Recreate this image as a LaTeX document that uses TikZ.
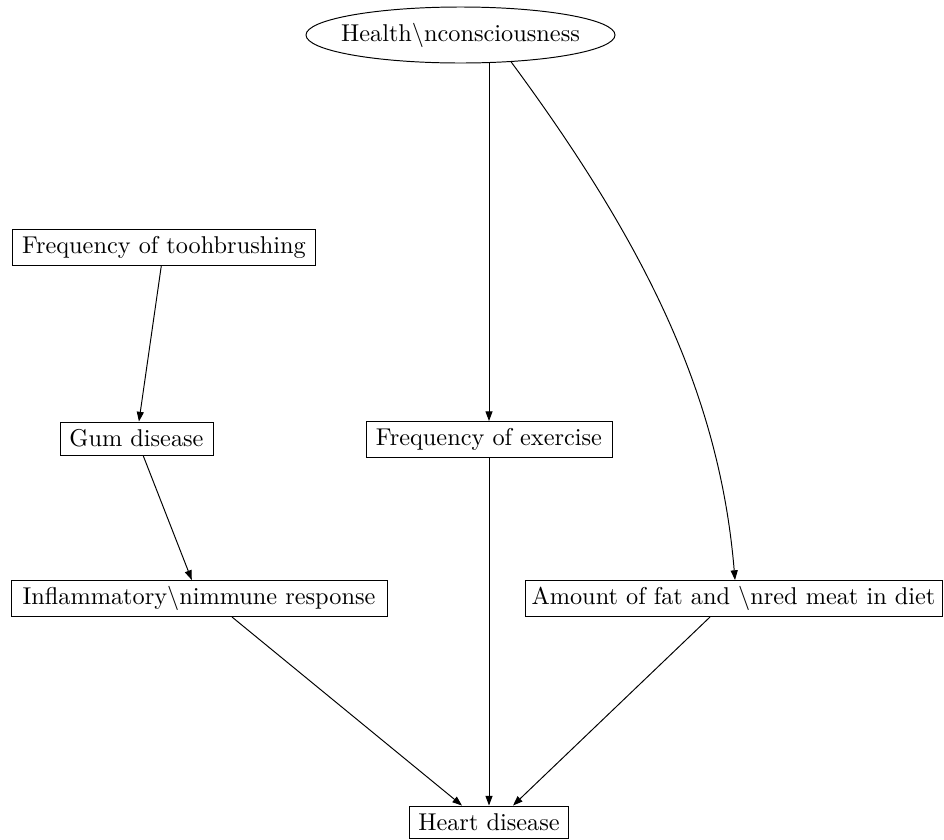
\documentclass[tikz,border=0pt]{standalone}
\usetikzlibrary{shapes.geometric,arrows.meta,calc}
\begin{document}
\begin{tikzpicture}[x=0.4115pt,y=-0.4115pt,
  box/.style={draw,rectangle,minimum height=36*0.4115pt,inner sep=0pt},
  arr/.style={-{Triangle[length=4pt,width=2.9pt]}}]
\useasboundingbox (0,0) rectangle (944,839);
\node[draw,ellipse,minimum width=309*0.4115pt,minimum height=56*0.4115pt,inner sep=0pt] (hc) at (460.5,35) {\makebox[0pt]{Health\textbackslash nconsciousness}};
\node[box,minimum width=303*0.4115pt] (tb) at (164,247) {Frequency of toohbrushing};
\node[box,minimum width=153*0.4115pt,minimum height=33*0.4115pt] (gum) at (136.5,438.5) {Gum disease};
\node[box,minimum width=246*0.4115pt] (ex) at (489,439.5) {Frequency of exercise};
\node[box,minimum width=376*0.4115pt] (inf) at (199,598.5) {Inflammatory\textbackslash nimmune response};
\node[box,minimum width=417*0.4115pt] (am) at (733.5,598.5) {Amount of fat and \textbackslash nred meat in diet};
\node[box,minimum width=159*0.4115pt,minimum height=32*0.4115pt] (hd) at (489,822) {Heart disease};
\draw[arr] (hc.south -| ex.north) -- (ex.north);
\draw[arr] (hc.-28) .. controls (650,250) and (720,400) .. ($(am.north)+(1.5,0)$);
\draw[arr] (tb) -- (gum);
\draw[arr] (gum) -- (inf);
\draw[arr] (ex) -- (hd);
\draw[arr] ($(inf.south)+(33,0)$) -- ($(hd.north)+(-27,0)$);
\draw[arr] ($(am.south)+(-23.5,0)$) -- ($(hd.north)+(24,0)$);
\end{tikzpicture}
\end{document}
